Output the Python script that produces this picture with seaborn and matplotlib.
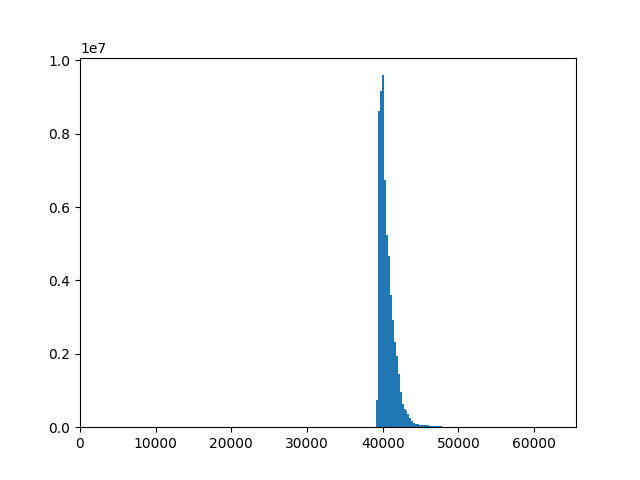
import numpy as np
import matplotlib
matplotlib.use("Agg")
import matplotlib.pyplot as plt
import seaborn as sns

# HISTOGRAM SETTINGS (16-bit range, 256 bins)
N_BINS = 256
MAX_VAL = 65536

# first non-empty bin and the counts
first_bin = 153
counts = [
    734000, 8614000, 9158000, 9592000, 6739000, 5245000, 4655000,
    3590000, 2920000, 2310000, 1940000, 1440000, 960000, 630000,
    490000, 435000, 350000, 245000, 180000, 117000, 80000, 76000,
    60000, 55000, 52000, 50000, 48000, 46000, 45000, 44000, 43000,
    42000, 40000, 38000,
]

bin_width = MAX_VAL / N_BINS
centers = (np.arange(len(counts)) + first_bin + 0.5) * bin_width

fig, ax = plt.subplots(figsize=(6.4, 4.8), dpi=100)

sns.histplot(
    x=centers,
    weights=counts,
    bins=N_BINS,
    binrange=(0, MAX_VAL),
    color="#1f77b4",
    alpha=1,
    linewidth=0,
    ax=ax
)

ax.set_ylabel("")
ax.set_xlim(0, 65535)
ax.set_xticks([0, 10000, 20000, 30000, 40000, 50000, 60000])

fig.savefig("out.png")
